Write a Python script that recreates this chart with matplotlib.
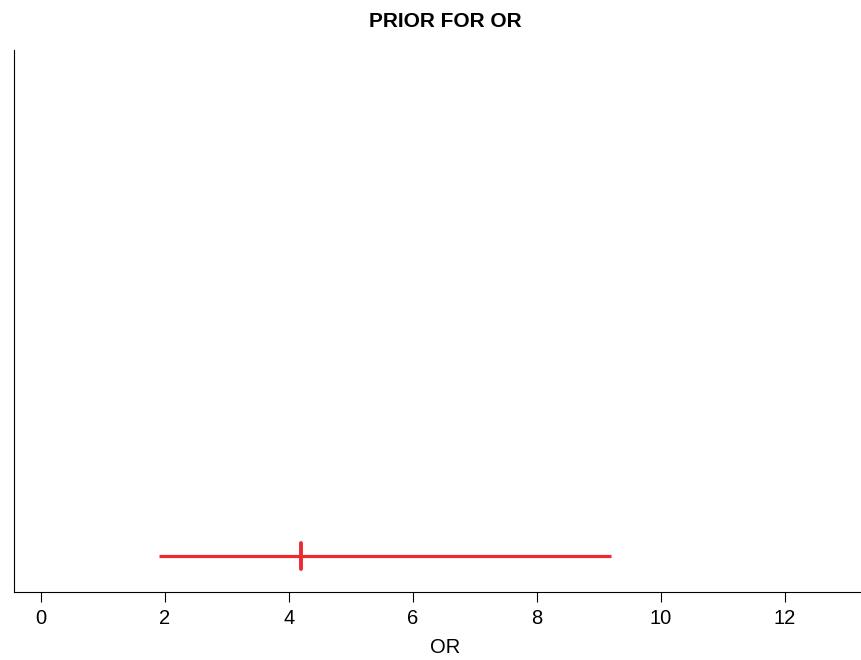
import matplotlib.pyplot as plt

# prior interval for the odds ratio
or_lower = [1.9]
or_median = [4.2]
or_upper = [9.2]
row_y = [0.066]

plt.rcParams['font.family'] = ['Liberation Sans', 'DejaVu Sans']

fig = plt.figure(figsize=(8.62, 6.6), dpi=100)
ax = fig.add_axes([0.0162, 0.103, 0.9838, 0.821])

ax.hlines(row_y, or_lower, or_upper, color='#ee2a2e', linewidth=2.3)
ax.vlines(or_median, [y - 0.024 for y in row_y], [y + 0.024 for y in row_y],
          color='#ee2a2e', linewidth=2.8, capstyle='round')

ax.set_xlim(-0.435, 13.24)
ax.set_ylim(0, 1)
ax.set_xticks([0, 2, 4, 6, 8, 10, 12])
ax.set_yticks([])
ax.tick_params(axis='x', labelsize=14.5, length=7, width=0.8, pad=5)

ax.spines['top'].set_visible(False)
ax.spines['right'].set_visible(False)
ax.spines['left'].set_linewidth(0.8)
ax.spines['bottom'].set_linewidth(0.8)

ax.set_xlabel('OR', fontsize=14.5)
ax.xaxis.set_label_coords(0.509, -0.085)
ax.set_title('PRIOR FOR OR', fontsize=15, fontweight='bold', x=0.509, pad=17)

fig.savefig('out.png', dpi=100)
